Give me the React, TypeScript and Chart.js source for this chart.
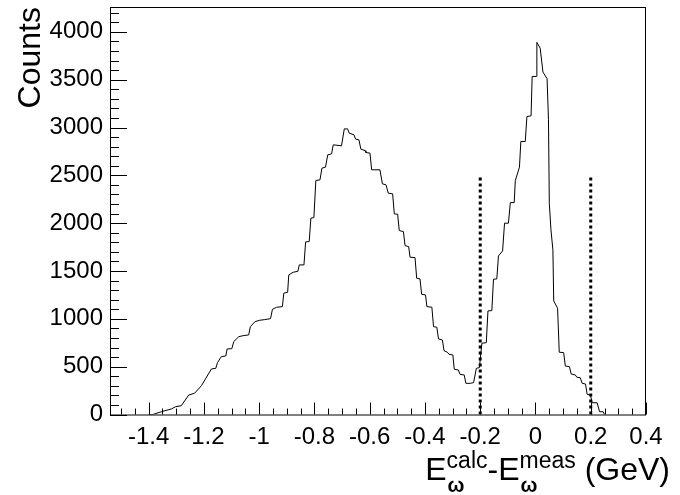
import { useEffect, useRef } from "react";
import { Chart, registerables, type Plugin } from "chart.js";

Chart.register(...registerables);

const FONT = '"Liberation Sans", Arial, Helvetica, sans-serif';

// histogram outline (GeV, counts)
const binX = [
  -1.4, -1.385, -1.354, -1.318, -1.302, -1.282, -1.255, -1.234, -1.209, -1.173,
  -1.157, -1.151, -1.137, -1.121, -1.116, -1.099, -1.092, -1.074, -1.058, -1.038,
  -1.032, -1.015, -0.998, -0.98, -0.959, -0.952, -0.937, -0.916, -0.911, -0.897,
  -0.893, -0.877, -0.86, -0.855, -0.838, -0.832, -0.819, -0.813, -0.802, -0.795,
  -0.78, -0.773, -0.76, -0.752, -0.738, -0.732, -0.702, -0.692, -0.68, -0.674,
  -0.657, -0.651, -0.639, -0.632, -0.617, -0.614, -0.599, -0.593, -0.563, -0.554,
  -0.541, -0.533, -0.517, -0.511, -0.499, -0.493, -0.478, -0.472, -0.459, -0.454,
  -0.436, -0.43, -0.418, -0.412, -0.398, -0.393, -0.375, -0.369, -0.357, -0.351,
  -0.337, -0.331, -0.319, -0.313, -0.299, -0.294, -0.279, -0.273, -0.258, -0.252,
  -0.236, -0.224, -0.214, -0.203, -0.194, -0.178, -0.172, -0.158, -0.152, -0.14,
  -0.134, -0.119, -0.112, -0.098, -0.091, -0.077, -0.073, -0.058, -0.053, -0.037,
  -0.031, -0.016, -0.012, 0.003, 0.005, 0.017, 0.027, 0.042, 0.047, 0.05,
  0.056, 0.063, 0.066, 0.08, 0.086, 0.102, 0.108, 0.123, 0.129, 0.144,
  0.15, 0.162, 0.169, 0.181, 0.187, 0.199, 0.205, 0.223, 0.232, 0.245, 0.25,
];
const counts = [
  0, 0, 29, 58, 82, 92, 204, 222, 301, 476,
  483, 542, 605, 612, 685, 688, 762, 814, 824, 832,
  918, 971, 985, 992, 1002, 1100, 1121, 1128, 1268, 1278,
  1459, 1487, 1497, 1564, 1564, 1804, 1808, 2052, 2059, 2446,
  2453, 2575, 2586, 2714, 2725, 2819, 2809, 2986, 2986, 2941,
  2924, 2879, 2871, 2774, 2759, 2739, 2732, 2558, 2558, 2411,
  2401, 2314, 2307, 2097, 2094, 1923, 1912, 1766, 1755, 1644,
  1640, 1425, 1417, 1257, 1250, 1128, 1121, 918, 912, 790,
  779, 667, 651, 630, 622, 473, 465, 420, 413, 326,
  326, 333, 483, 490, 745, 751, 1083, 1086, 1414, 1417,
  1658, 1710, 2000, 2000, 2215, 2215, 2446, 2586, 2854, 2854,
  3115, 3122, 3534, 3534, 3890, 3830, 3580, 3510, 3081, 2209,
  1930, 1721, 1187, 1111, 651, 647, 507, 500, 424, 413,
  389, 385, 326, 319, 211, 204, 123, 123, 29, 29, 0,
];

const cutPositions = [-0.2, 0.2];
const cutHeight = 2500;

const xTickValues = [-1.4, -1.2, -1, -0.8, -0.6, -0.4, -0.2, 0, 0.2, 0.4];
const yTickValues = [0, 500, 1000, 1500, 2000, 2500, 3000, 3500, 4000];

const X_MIN = -1.54;
const X_MAX = 0.4;
const Y_MAX = 4260;

const rootFrame: Plugin<"line"> = {
  id: "rootFrame",
  afterDraw(chart) {
    const { ctx, chartArea: a, scales } = chart;
    const xs = scales.x;
    const ys = scales.y;
    ctx.save();
    ctx.strokeStyle = "#000";
    ctx.lineWidth = 1;
    ctx.strokeRect(a.left + 0.5, a.top + 0.5, a.right - a.left - 1, a.bottom - a.top);

    // ticks pointing inwards, ROOT style
    ctx.beginPath();
    for (let k = -31; k <= 8; k++) {
      const v = k * 0.05;
      if (v < X_MIN - 1e-9 || v > X_MAX + 1e-9) continue;
      const px = Math.round(xs.getPixelForValue(v)) + 0.5;
      const len = k % 4 === 0 ? 12 : 6;
      ctx.moveTo(px, a.bottom);
      ctx.lineTo(px, a.bottom - len);
    }
    for (let k = 0; k <= 42; k++) {
      const v = k * 100;
      if (v > Y_MAX) continue;
      const py = Math.round(ys.getPixelForValue(v)) + 0.5;
      const len = k % 5 === 0 ? 17 : 9;
      ctx.moveTo(a.left, py);
      ctx.lineTo(a.left + len, py);
    }
    ctx.stroke();

    // x axis title with sub/superscripts
    const big = `32px ${FONT}`;
    const small = `23px ${FONT}`;
    const greek = `bold 20px ${FONT}`;
    type Piece = { text: string; font: string; dy: number; sub?: string };
    const pieces: Piece[] = [
      { text: "E", font: big, dy: 0 },
      { text: "calc", font: small, dy: -12, sub: "ω" },
      { text: "-", font: big, dy: 0 },
      { text: "E", font: big, dy: 0 },
      { text: "meas", font: small, dy: -12, sub: "ω" },
      { text: " (GeV)", font: big, dy: 0 },
    ];
    const widthOf = (p: Piece) => {
      ctx.font = p.font;
      let w = ctx.measureText(p.text).width;
      if (p.sub) {
        ctx.font = greek;
        w = Math.max(w, ctx.measureText(p.sub).width);
      }
      return w;
    };
    const total = pieces.reduce((s, p) => s + widthOf(p), 0);
    let cx = 670 - total;
    const base = 480;
    ctx.fillStyle = "#000";
    ctx.textBaseline = "alphabetic";
    ctx.textAlign = "left";
    for (const p of pieces) {
      const w = widthOf(p);
      ctx.font = p.font;
      ctx.fillText(p.text, cx, base + p.dy);
      if (p.sub) {
        ctx.font = greek;
        ctx.fillText(p.sub, cx + 1, base + 12);
      }
      cx += w;
    }
    ctx.restore();
  },
};

function fmt(v: number) {
  return String(Number(v.toFixed(1)));
}

export default function App() {
  const ref = useRef<HTMLCanvasElement | null>(null);
  const chartRef = useRef<Chart | null>(null);

  useEffect(() => {
    const el = ref.current;
    if (!el) return;
    chartRef.current?.destroy();

    const histData = binX.map((x, i) => ({ x, y: counts[i] }));
    const cutSets = cutPositions.map((c) => ({
      data: [
        { x: c, y: 0 },
        { x: c, y: cutHeight },
      ],
      borderColor: "#000",
      borderWidth: 3,
      borderDash: [3, 3],
      pointRadius: 0,
      fill: false,
    }));

    chartRef.current = new Chart(el, {
      type: "line",
      data: {
        datasets: [
          {
            data: histData,
            borderColor: "#000",
            borderWidth: 1,
            pointRadius: 0,
            tension: 0,
            fill: false,
          },
          ...cutSets,
        ],
      },
      options: {
        animation: false,
        responsive: true,
        maintainAspectRatio: false,
        layout: { padding: { top: 7, right: 34, left: 0, bottom: 0 } },
        plugins: { legend: { display: false }, tooltip: { enabled: false } },
        scales: {
          x: {
            type: "linear",
            min: X_MIN,
            max: X_MAX,
            grid: { display: false, drawTicks: false },
            border: { display: false },
            afterBuildTicks: (s) => {
              s.ticks = xTickValues.map((value) => ({ value }));
            },
            afterFit: (s) => {
              s.height = 80.5;
              s.paddingLeft = 0;
              s.paddingRight = 0;
            },
            ticks: {
              color: "#000",
              padding: 8,
              maxRotation: 0,
              autoSkip: false,
              font: { family: FONT, size: 24 },
              callback: (v) => fmt(Number(v)),
            },
          },
          y: {
            type: "linear",
            min: 0,
            max: Y_MAX,
            grid: { display: false, drawTicks: false },
            border: { display: false },
            afterBuildTicks: (s) => {
              s.ticks = yTickValues.map((value) => ({ value }));
            },
            afterFit: (s) => {
              s.width = 110;
              s.paddingTop = 0;
              s.paddingBottom = 0;
            },
            title: {
              display: true,
              text: "Counts",
              align: "end",
              color: "#000",
              padding: { top: 12, bottom: 0 },
              font: { family: FONT, size: 32 },
            },
            ticks: {
              color: "#000",
              padding: 7,
              autoSkip: false,
              font: { family: FONT, size: 24 },
              callback: (v) => String(v),
            },
          },
        },
      },
      plugins: [rootFrame],
    });

    return () => {
      chartRef.current?.destroy();
      chartRef.current = null;
    };
  }, []);

  return (
    <div style={{ position: "absolute", left: 0, top: 0, width: 680, height: 495, background: "#fff" }}>
      <canvas ref={ref} />
    </div>
  );
}
